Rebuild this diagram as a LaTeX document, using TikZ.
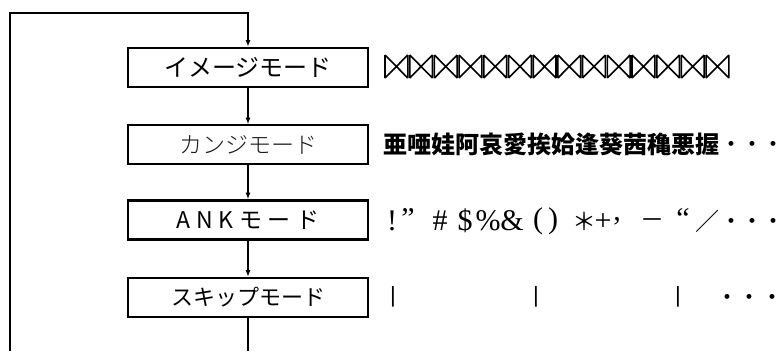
\documentclass[tikz,border=0pt]{standalone}
\usepackage{fontspec}
\usetikzlibrary{arrows.meta}
\newfontfamily\jp{Noto Sans CJK JP}
\IfFontExistsTF{Noto Sans CJK JP Light}{\newfontfamily\jpl{Noto Sans CJK JP Light}}{\newfontfamily\jpl{Noto Sans CJK JP}}
\newfontfamily\jpank{Noto Sans CJK JP}[LetterSpace=25]
\newfontfamily\latser{Liberation Serif}
\newfontfamily\latsans{Liberation Sans}
\begin{document}
\begin{tikzpicture}[x=1pt,y=-1pt,
  modebox/.style={draw=black, line width=2.6pt, minimum width=240pt, minimum height=39pt, inner sep=0pt},
  thinbox/.style={modebox, line width=1.6pt},
  flow/.style={line width=1.2pt, -{Latex[length=6.5pt,width=5pt]}},
  plain/.style={line width=1.2pt},
  tie/.style={line width=1.6pt},
  sym/.style={font=\latser\fontsize{30}{30}\selectfont, inner sep=0pt},
  wsym/.style={font=\jp\fontsize{24}{24}\selectfont, inner sep=0pt},
  dot/.style={font=\latsans\bfseries\fontsize{17}{17}\selectfont, inner sep=0pt},
  bar/.style={font=\latsans\fontsize{22}{22}\selectfont, inner sep=0pt}]
\useasboundingbox (0,0) rectangle (778,351);

% mode boxes
\node[modebox] (b1) at (248,67.5) {\jp\fontsize{24}{24}\selectfont イメージモード};
\node[thinbox] (b2) at (248,144.5) {\color{black!90}\jpl\fontsize{23}{23}\selectfont カンジモード};
\node[modebox] (b3) at (248,220) {\jpank\fontsize{23}{23}\selectfont ANKモード};
\node[modebox] (b4) at (248,297.5) {\jp\fontsize{22}{22}\selectfont スキップモード};

% loop
\coordinate (bl) at (10,351);
\coordinate (tl) at (10,13);
\coordinate (tr) at (248,13);
\coordinate (bb) at (248,351);
\draw[flow] (bl) -- (tl) -- (tr) -- (b1.north);
\draw[flow] (b1.south) -- (b2.north);
\draw[flow] (b2.south) -- (b3.north);
\draw[flow] (b3.south) -- (b4.north);
\draw[plain] (b4.south) -- (bb);

% row 1: bow ties
\foreach \i in {0,...,13}{
  \pgfmathsetmacro\xa{385+\i*24.7}
  \pgfmathsetmacro\xb{\xa+22.8}
  \draw[tie] (\xa,55) -- (\xa,78) (\xb,55) -- (\xb,78)
             (\xa,55) -- (\xb,78) (\xa,78) -- (\xb,55);
}

% row 2: kanji
\node[anchor=west, inner sep=0pt, font=\jp\bfseries\fontsize{24}{24}\selectfont] (k) at (383,144) {亜唖娃阿哀愛挨姶逢葵茜穐悪握};
\node[dot] (k1) at (731,145) {•};
\node[dot] (k2) at (752,145) {•};
\node[dot] (k3) at (773,145) {•};

% row 3: symbols
\node[sym] (s1) at (392,221) {!};
\node[sym] (s2) at (408,219) {”};
\node[sym] (s3) at (440,221) {\#};
\node[sym] (s4) at (465,221) {\$};
\node[sym] (s5) at (488,221) {\%};
\node[sym] (s6) at (512,221) {\&};
\node[sym] (s7) at (538,221) {(};
\node[sym] (s8) at (553,221) {)};
\node[wsym] (s9) at (584,221) {＊};
\node[sym] (s10) at (603,222) {+};
\node[sym] (s11) at (617,221) {,};
\node[wsym] (s12) at (652,224) {－};
\node[sym] (s13) at (683,219) {“};
\node[wsym] (s14) at (707,221) {／};
\node[dot] (a1) at (731,222) {•};
\node[dot] (a2) at (752,222) {•};
\node[dot] (a3) at (773,222) {•};

% row 4: skip bars
\node[bar] (p1) at (393,297) {|};
\node[bar] (p2) at (536,297) {|};
\node[bar] (p3) at (678,297) {|};
\node[dot] (q1) at (727,298) {•};
\node[dot] (q2) at (749,298) {•};
\node[dot] (q3) at (772,298) {•};
\end{tikzpicture}
\end{document}
